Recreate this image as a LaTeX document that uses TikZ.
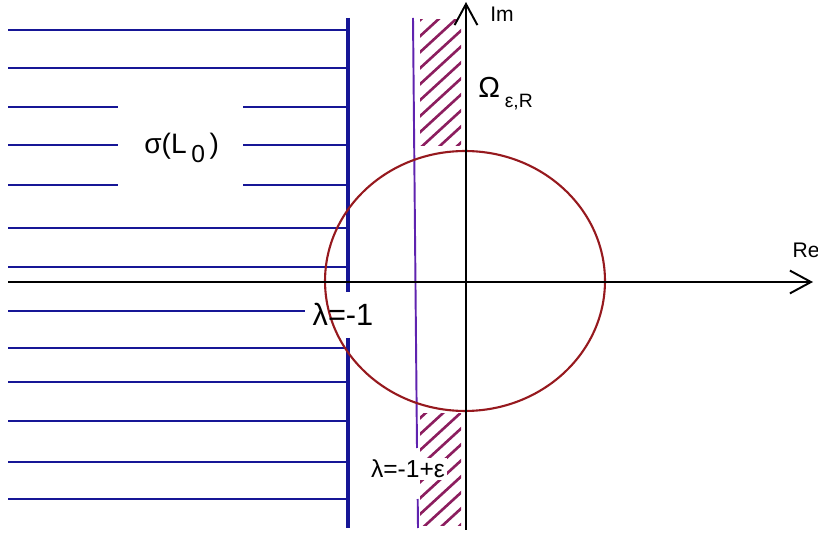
\documentclass[tikz,border=0pt]{standalone}
\usepackage{fontspec}
\setmainfont{Liberation Sans}
\usetikzlibrary{arrows.meta}
\definecolor{specblue}{RGB}{22,22,150}
\definecolor{circred}{RGB}{150,25,30}
\definecolor{hatchplum}{RGB}{140,30,95}
\definecolor{stripviolet}{RGB}{95,35,175}
\begin{document}
\begin{tikzpicture}[x=0.02cm,y=-0.02cm,
  spec/.style={specblue,line width=1.3pt},
  hatch/.style={hatchplum,line width=1.5pt},
  axis/.style={black,line width=1.1pt,-{Straight Barb[length=12pt,width=13pt]}},
  lbl/.style={inner sep=0pt,anchor=base}]
  \useasboundingbox (0,0) rectangle (818,536);
  % spectrum
  \foreach \y in {30,68,228,267,348,382,421,462,499}
    \draw[spec] (8,\y)--(348,\y);
  \foreach \y in {107,145,185} {
    \draw[spec] (8,\y)--(118,\y);
    \draw[spec] (243,\y)--(348,\y);
  }
  \draw[spec] (8,311)--(305,311);
  \draw[specblue,line width=1.9pt] (348,18)--(348,292);
  \draw[specblue,line width=1.9pt] (348,338)--(348,528);
  % hatched strip
  \begin{scope}
    \clip (420,20) rectangle (461,146);
    \foreach \k in {0,...,11}
      \draw[hatch] (418,{22+16*\k})--++(60,-55);
  \end{scope}
  \begin{scope}
    \clip (420,414) rectangle (461,526);
    \foreach \k in {0,...,11}
      \draw[hatch] (418,{420+16*\k})--++(60,-55);
  \end{scope}
  \draw[stripviolet,line width=1.1pt] (413,18)--(417,448);
  \draw[stripviolet,line width=1.1pt] (417.7,499)--(418,528);
  % circle
  \draw[circred,line width=1.2pt] (465,281) ellipse [x radius=2.8cm,y radius=2.6cm];
  % axes
  \coordinate (xl) at (8,282);
  \coordinate (xr) at (813,282);
  \coordinate (yb) at (466,530);
  \coordinate (yt) at (466,2);
  \draw[axis] (xl)--(xr);
  \draw[axis] (yb)--(yt);
  % labels
  \node[lbl] (im) at (502,22) {\fontsize{12}{14}\selectfont Im};
  \node[lbl] (re) at (806,258) {\fontsize{12}{14}\selectfont Re};
  \node[lbl,anchor=base west] (omega) at (478,98)
    {\fontsize{16.5}{18}\selectfont Ω\,\raisebox{-5.5pt}{\fontsize{11}{13}\selectfont ε,R}};
  \node[lbl,anchor=base west] (sigma) at (144,154)
    {\fontsize{16}{19}\selectfont σ(L\,\raisebox{-5pt}{\fontsize{14}{16}\selectfont 0}\,)};
  \node[lbl] (lam) at (343,326) {\fontsize{17.5}{20}\selectfont λ=-1};
  \node[lbl,fill=white,inner sep=1pt] (lameps) at (408,478)
    {\fontsize{14}{16}\selectfont λ=-1+ε};
\end{tikzpicture}
\end{document}
